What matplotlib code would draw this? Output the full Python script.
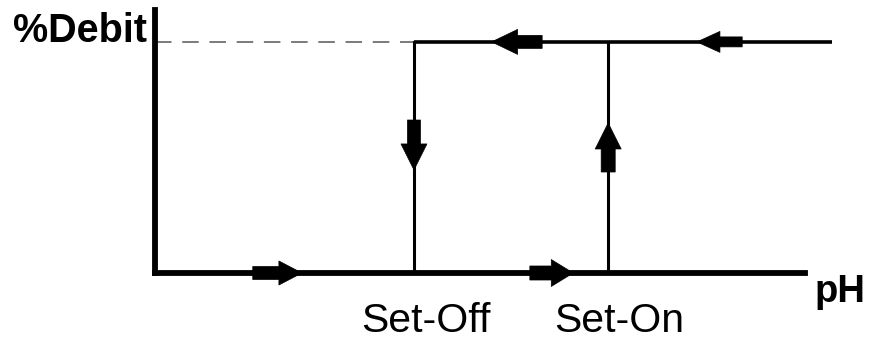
from matplotlib import pyplot as plt

# hysteresis schematic: %Debit vs pH
set_off = 4.0
set_on = 7.0
debit_max = 100
ph_end = 10.04
top_end = 10.46
y_top = 113.8

# arrows as (tail_x, tail_y, tip_x, tip_y)
arrows = [
    (1.51, 0, 2.27, 0),
    (5.79, 0, 6.46, 0),
    (5.98, 100, 5.20, 100),
    (9.07, 100, 8.37, 100),
    (4.0, 66.2, 4.0, 44.6),
    (7.0, 43.7, 7.0, 64.9),
]
# head length, head width, tail width (px)
arrow_px = [(23, 24, 13), (22, 27, 14), (26, 25, 13), (23, 21, 10), (26, 26, 13), (26, 26, 14)]

labels = ['Set-Off', 'Set-On']
label_x = [4.19, 7.17]

plt.rcParams['font.family'] = ['Liberation Sans', 'DejaVu Sans']

fig = plt.figure(figsize=(8.72, 3.44), dpi=100)
ax = fig.add_axes([155/872, 71/344, 650/872, 263/344])
ax.set_xlim(0, ph_end)
ax.set_ylim(0, y_top)
ax.set_xticks([])
ax.set_yticks([])
for s in ['top', 'right']:
    ax.spines[s].set_visible(False)
for s in ['left', 'bottom']:
    ax.spines[s].set_linewidth(4.2)
    ax.spines[s].set_capstyle('projecting')

# dashed reference
ax.plot([0, set_off], [debit_max, debit_max], color='#7a7a7a', lw=1.4,
        ls=(0, (8.5, 5.5)), clip_on=False)
# top branch and switching lines
ax.plot([set_off, top_end], [debit_max, debit_max], color='black', lw=2.6,
        solid_capstyle='butt', clip_on=False)
ax.plot([set_off, set_off], [0, debit_max], color='black', lw=2.2, clip_on=False)
ax.plot([set_on, set_on], [0, debit_max], color='black', lw=2.2, clip_on=False)

k = 0.72
for (x0, y0, x1, y1), (hl, hw, tw) in zip(arrows, arrow_px):
    style = 'simple,head_length=%.1f,head_width=%.1f,tail_width=%.1f' % (hl*k, hw*k, tw*k)
    ax.annotate('', xy=(x1, y1), xytext=(x0, y0),
                arrowprops=dict(arrowstyle=style, mutation_scale=1, fc='black',
                                ec='black', lw=0.5, shrinkA=0, shrinkB=0),
                annotation_clip=False)

ax.text(-0.12, debit_max, '%Debit', ha='right', va='baseline',
        fontsize=28.5, fontweight='bold')
ax.text(10.19, -12.6, 'pH', ha='left', va='baseline', fontsize=27.5, fontweight='bold')
for lab, x in zip(labels, label_x):
    ax.text(x, -25.5, lab, ha='center', va='baseline', fontsize=29.5)

fig.savefig('out.png', dpi=100)
